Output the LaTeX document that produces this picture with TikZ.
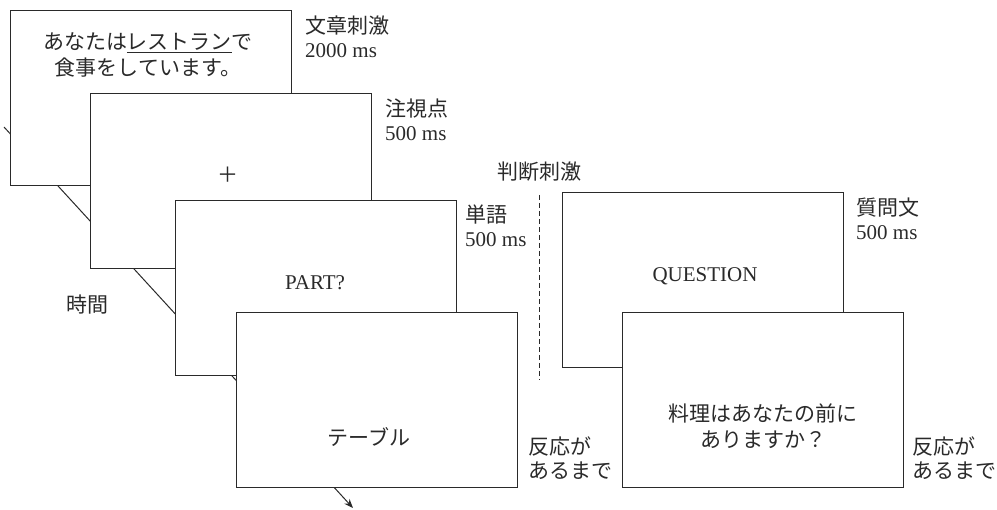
\documentclass[tikz,border=0pt]{standalone}
\usepackage{fontspec}
\setmainfont{Liberation Serif}
\newfontfamily\jp{Noto Sans CJK JP}
\usetikzlibrary{arrows.meta}
\definecolor{ink}{HTML}{2A2A2A}
\begin{document}
\begin{tikzpicture}[x=1pt,y=-1pt,
  screen/.style={draw=ink,line width=1.2pt,fill=white,minimum width=281pt,minimum height=175pt,inner sep=0pt,anchor=north west},
  txt/.style={text=ink,font=\fontsize{21}{26}\selectfont,align=center,inner sep=0pt},
  lbl/.style={text=ink,font=\fontsize{21}{23.5}\selectfont,align=left,inner sep=0pt,anchor=west},
  timeline/.style={draw=ink,line width=1pt,-{Stealth[length=9pt,width=7pt]}},
  divider/.style={draw=ink,line width=1pt,dash pattern=on 5pt off 3pt}]
\useasboundingbox (0,0) rectangle (997,510);
% time axis (behind the screens)
\coordinate (t0) at (4,127);
\coordinate (t1) at (353,508);
\draw[timeline] (t0) -- (t1);
% screens
\node[screen] (s1) at (10,10) {};
\node[screen] (s2) at (90,93) {};
\node[screen] (s3) at (175,200) {};
\node[screen] (s4) at (236,312) {};
\node[screen] (s5) at (562,192) {};
\node[screen] (s6) at (622,312) {};
% screen contents
\node[txt] (c1) at (148,55) {\jp あなたは\underline{レストラン}で\\\jp 食事をしています。};
\node[txt] (c2) at (228,175) {\jp ＋};
\node[txt] (c3) at (315,283) {PART?};
\node[txt] (c4) at (369,437) {\jp テーブル};
\node[txt] (c5) at (705,276) {QUESTION};
\node[txt] (c6) at (763,426) {\jp 料理はあなたの前に\\\jp ありますか？};
% labels
\node[lbl] (l1) at (305,37) {{\jp 文章刺激}\\2000 ms};
\node[lbl] (l2) at (385,120) {{\jp 注視点}\\500 ms};
\node[lbl] (l3) at (465,226) {{\jp 単語}\\500 ms};
\node[lbl] (l4) at (856,219) {{\jp 質問文}\\500 ms};
\node[lbl] (l5) at (528,458) {\jp 反応が\\\jp あるまで};
\node[lbl] (l6) at (912,458) {\jp 反応が\\\jp あるまで};
\node[lbl] (l7) at (497,172) {\jp 判断刺激};
\node[lbl] (l8) at (66,305) {\jp 時間};
% divider
\coordinate (d0) at (539,195);
\coordinate (d1) at (539,380);
\draw[divider] (d0) -- (d1);
\end{tikzpicture}
\end{document}
